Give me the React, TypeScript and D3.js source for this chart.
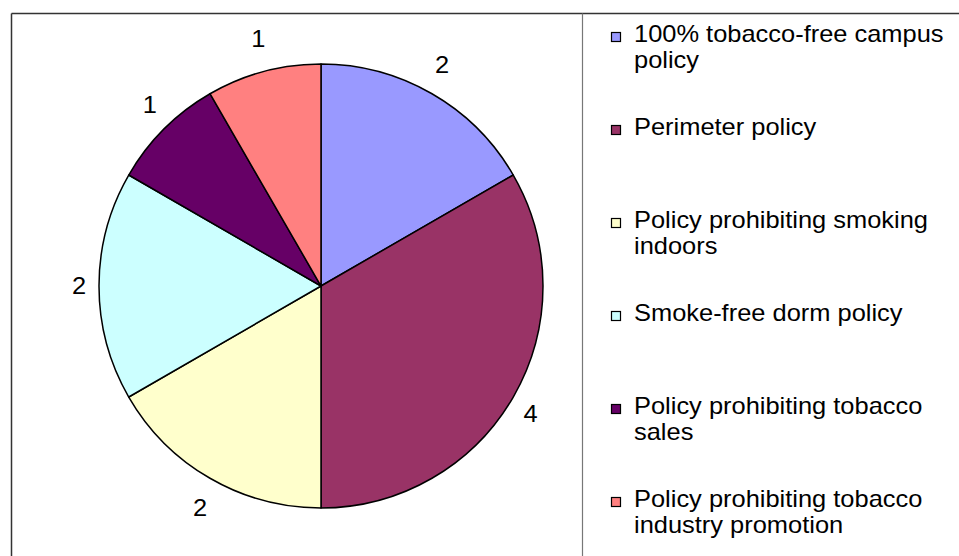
import React from "react";
import * as d3 from "d3";

const categories = [
  "100% tobacco-free campus policy",
  "Perimeter policy",
  "Policy prohibiting smoking indoors",
  "Smoke-free dorm policy",
  "Policy prohibiting tobacco sales",
  "Policy prohibiting tobacco industry promotion",
];
const legendLines = [
  ["100% tobacco-free campus", "policy"],
  ["Perimeter policy"],
  ["Policy prohibiting smoking", "indoors"],
  ["Smoke-free dorm policy"],
  ["Policy prohibiting tobacco", "sales"],
  ["Policy prohibiting tobacco", "industry promotion"],
];
const counts = [2, 4, 2, 2, 1, 1];
const colors = ["#9999FF", "#993366", "#FFFFCC", "#CCFFFF", "#660066", "#FF8080"];

const W = 959;
const H = 556;
const FONT = "'Liberation Sans', Arial, sans-serif";
const FS = 24;
const STRETCH = 1.06;

export default function App() {
  const cx = 321;
  const cy = 286;
  const r = 222;
  // data labels sit on a slightly flattened ring outside the pie
  const labelRx = 242;
  const labelRy = 256;

  const pie = d3.pie<number>().sort(null).value((d) => d);
  const arcs = pie(counts);
  const arc = d3.arc<d3.PieArcDatum<number>>().innerRadius(0).outerRadius(r);

  const legendY = d3
    .scalePoint<number>()
    .domain(d3.range(categories.length))
    .range([42, 507]);

  return (
    <div style={{ position: "fixed", left: 0, top: 0 }}>
      <svg width={W} height={H} style={{ display: "block", background: "#fff" }}>
        {/* chart frame and plot/legend divider */}
        <line x1={11.5} y1={13.5} x2={W} y2={13.5} stroke="#333" strokeWidth={1.5} />
        <line x1={11.5} y1={13.5} x2={11.5} y2={H} stroke="#333" strokeWidth={1.5} />
        <line x1={582.5} y1={13.5} x2={582.5} y2={H} stroke="#777" strokeWidth={1.2} />

        <g transform={`translate(${cx},${cy})`}>
          {arcs.map((a, i) => (
            <path
              key={categories[i]}
              d={arc(a) || ""}
              fill={colors[i]}
              stroke="#000"
              strokeWidth={1.5}
              strokeLinejoin="round"
            />
          ))}
          {arcs.map((a, i) => {
            const mid = (a.startAngle + a.endAngle) / 2;
            const x = Math.sin(mid) * labelRx;
            const y = -Math.cos(mid) * labelRy;
            return (
              <text
                key={"l" + i}
                transform={`translate(${x},${y}) scale(${STRETCH},1)`}
                textAnchor="middle"
                dominantBaseline="central"
                fontFamily={FONT}
                fontSize={FS}
                fill="#000"
              >
                {a.data}
              </text>
            );
          })}
        </g>

        <g>
          {legendLines.map((lines, i) => {
            const y = legendY(i) as number;
            return (
              <g key={"lg" + i}>
                <rect
                  x={611.5}
                  y={y - 9.5}
                  width={9}
                  height={9}
                  fill={colors[i]}
                  stroke="#000"
                  strokeWidth={1.2}
                />
                {lines.map((t, j) => (
                  <text
                    key={j}
                    transform={`translate(634,${y + j * 26}) scale(${STRETCH},1)`}
                    fontFamily={FONT}
                    fontSize={FS}
                    fill="#000"
                  >
                    {t}
                  </text>
                ))}
              </g>
            );
          })}
        </g>
      </svg>
    </div>
  );
}
